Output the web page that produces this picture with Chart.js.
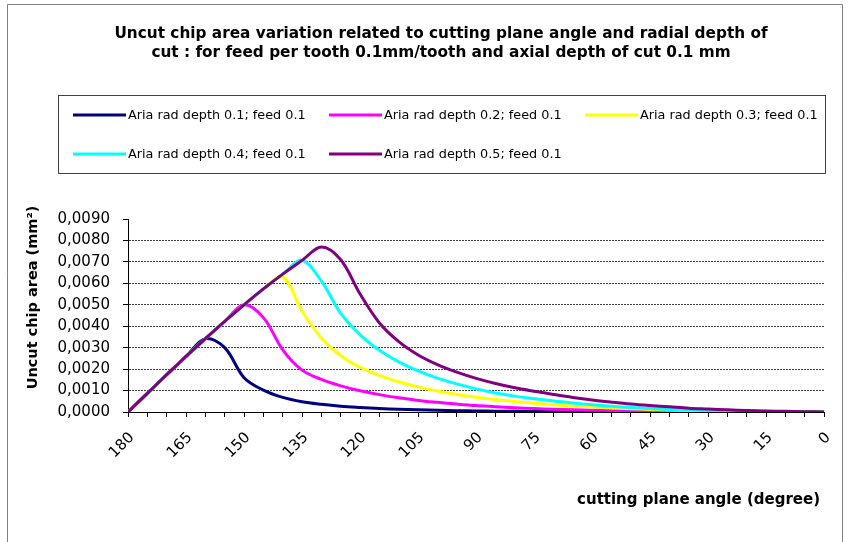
<!DOCTYPE html>
<html>
<head>
<meta charset="utf-8">
<script src="https://cdn.jsdelivr.net/npm/chart.js@4.4.1/dist/chart.umd.min.js"></script>
<style>
html,body{margin:0;padding:0;background:#fff;}
#wrap{position:relative;width:849px;height:542px;overflow:hidden;}
</style>
</head>
<body>
<div id="wrap"><canvas id="c" width="849" height="542"></canvas></div>
<script>
// ---- texts ----
const titleLines = [
  'Uncut chip area variation related to cutting plane angle and radial depth of',
  'cut : for feed per tooth 0.1mm/tooth and axial depth of cut 0.1 mm'
];
const yAxisTitle = 'Uncut chip area (mm²)';
const xAxisTitle = 'cutting plane angle (degree)';
const seriesNames = [
  'Aria rad depth 0.1; feed 0.1',
  'Aria rad depth 0.2; feed 0.1',
  'Aria rad depth 0.3; feed 0.1',
  'Aria rad depth 0.4; feed 0.1',
  'Aria rad depth 0.5; feed 0.1'
];

// ---- data ----
const angles = [180,175,170,165,160,155,150,145,140,135,130,125,120,115,110,105,100,95,90,85,80,75,70,65,60,55,50,45,40,35,30,25,20,15,10,5,0];

const rad01 = [0,0.00087,0.00174,0.00259,0.00342,0.00300,0.00160,0.00102,0.00068,0.00048,0.00036,0.00027,0.00021,0.00016,0.000125,0.00010,0.00008,0.000063,0.00005,0.00004,0.000032,0.000025,0.00002,0.000016,0.000012,0.00001,0.000008,0.000006,0.000005,0.000004,0.000003,0.000002,0.0000015,0.000001,0.0000005,0.0000002,0];
const rad02 = [0,0.00087,0.00174,0.00259,0.00342,0.00423,0.00500,0.00440,0.00290,0.00195,0.00152,0.00122,0.00099,0.00081,0.00066,0.00054,0.00045,0.00037,0.00030,0.00025,0.00020,0.00016,0.00013,0.000105,0.000085,0.00007,0.000055,0.000045,0.000035,0.000028,0.00002,0.000015,0.00001,0.000007,0.000004,0.000002,0];
const rad03 = [0,0.00087,0.00174,0.00259,0.00342,0.00423,0.00500,0.00574,0.00630,0.00470,0.00345,0.00262,0.00208,0.00170,0.00141,0.00117,0.00098,0.00082,0.00069,0.00058,0.00049,0.00041,0.00034,0.00028,0.00023,0.00019,0.00015,0.00012,0.00009,0.00007,0.00005,0.00004,0.00003,0.00002,0.00001,0.000005,0];
const rad04 = [0,0.00087,0.00174,0.00259,0.00342,0.00423,0.00500,0.00574,0.00643,0.00707,0.00610,0.00460,0.00360,0.00288,0.00234,0.00192,0.00158,0.00131,0.00108,0.00089,0.00074,0.00062,0.00051,0.00042,0.00034,0.00027,0.00021,0.00016,0.00012,0.00009,0.00007,0.00005,0.00003,0.00002,0.00001,0.000005,0];
const rad05 = [0,0.00087,0.00174,0.00259,0.00342,0.00423,0.00500,0.00574,0.00643,0.00707,0.00770,0.00710,0.00550,0.00415,0.00328,0.00266,0.00221,0.00186,0.00157,0.00133,0.00113,0.00097,0.00082,0.00068,0.00056,0.00046,0.00037,0.00030,0.00024,0.00018,0.00014,0.00010,0.00007,0.00005,0.00003,0.000015,0];

const seriesValues = [rad01, rad02, rad03, rad04, rad05];
const seriesColors = ['#000080', '#FF00FF', '#FFFF00', '#00FFFF', '#800080'];

// ---- y tick label format ----
const fmtY = v => v.toFixed(4).replace('.', ',');

const FONT = '"DejaVu Sans", sans-serif';

const decor = {
  id: 'decor',
  beforeDraw(chart) {
    const ctx = chart.ctx;
    ctx.save();
    ctx.fillStyle = '#fff';
    ctx.fillRect(0, 0, chart.width, chart.height);
    ctx.restore();
  },
  afterDraw(chart) {
    const ctx = chart.ctx;
    ctx.save();
    // outer chart border
    ctx.strokeStyle = '#808080';
    ctx.lineWidth = 1;
    ctx.beginPath();
    ctx.moveTo(7.5, chart.height);
    ctx.lineTo(7.5, 4.5);
    ctx.lineTo(842.5, 4.5);
    ctx.lineTo(842.5, chart.height);
    ctx.stroke();

    // title
    ctx.fillStyle = '#000';
    ctx.textAlign = 'center';
    ctx.textBaseline = 'alphabetic';
    ctx.font = 'bold 15.3px ' + FONT;
    ctx.fillText(titleLines[0], 441, 38);
    ctx.fillText(titleLines[1], 441, 57);

    // legend box
    ctx.strokeStyle = '#404040';
    ctx.lineWidth = 1;
    ctx.strokeRect(58.5, 95.5, 767, 78);
    const colX = [73, 329, 585];
    const rowY = [115, 154];
    ctx.font = '12.8px ' + FONT;
    ctx.textAlign = 'left';
    ctx.textBaseline = 'middle';
    chart.data.datasets.forEach((ds, i) => {
      const x = colX[i % 3], y = rowY[Math.floor(i / 3)];
      ctx.strokeStyle = ds.borderColor;
      ctx.lineWidth = 3;
      ctx.beginPath();
      ctx.moveTo(x, y);
      ctx.lineTo(x + 53, y);
      ctx.stroke();
      ctx.fillStyle = '#000';
      ctx.fillText(ds.label, x + 55, y + 0.5);
    });

    // y axis title
    ctx.save();
    ctx.translate(33, 297.5);
    ctx.rotate(-Math.PI / 2);
    ctx.font = 'bold 14.5px ' + FONT;
    ctx.textAlign = 'center';
    ctx.textBaseline = 'middle';
    ctx.fillStyle = '#000';
    ctx.fillText(yAxisTitle, 0, 0);
    ctx.restore();

    // x axis title
    ctx.font = 'bold 15px ' + FONT;
    ctx.textAlign = 'right';
    ctx.textBaseline = 'middle';
    ctx.fillStyle = '#000';
    ctx.fillText(xAxisTitle, 820, 500);
    ctx.restore();
  }
};

new Chart(document.getElementById('c'), {
  type: 'line',
  data: {
    datasets: seriesValues.map((vals, i) => ({
      label: seriesNames[i],
      data: angles.map((a, j) => ({ x: a, y: vals[j] })),
      borderColor: seriesColors[i],
      backgroundColor: seriesColors[i],
      borderWidth: 3,
      pointRadius: 0,
      tension: 0.35,
      fill: false,
      order: seriesValues.length - i
    }))
  },
  options: {
    responsive: false,
    animation: false,
    devicePixelRatio: 1,
    layout: { padding: { left: 0, right: 23, top: 219, bottom: 0 } },
    plugins: {
      legend: { display: false },
      title: { display: false },
      tooltip: { enabled: false }
    },
    scales: {
      x: {
        type: 'linear',
        reverse: true,
        min: 0,
        max: 180,
        afterFit: s => { s.height = 130; },
        ticks: {
          stepSize: 5,
          autoSkip: false,
          minRotation: 45,
          maxRotation: 45,
          padding: 12,
          labelOffset: 4,
          color: '#000',
          font: { family: FONT, size: 15 },
          callback: v => (v % 15 === 0 ? String(v) : '')
        },
        grid: { drawOnChartArea: false, drawTicks: true, tickLength: 5, color: '#000' },
        border: { display: true, color: '#000', width: 1 }
      },
      y: {
        min: 0,
        max: 0.009,
        afterFit: s => { s.width = 128; },
        ticks: {
          stepSize: 0.001,
          padding: 13,
          color: '#000',
          font: { family: FONT, size: 15 },
          callback: v => fmtY(v)
        },
        grid: {
          color: c => {
            const k = Math.round(c.tick.value * 10000);
            return (k === 0 || k === 90) ? 'rgba(0,0,0,0)' : '#404040';
          },
          tickColor: '#000',
          tickLength: 5,
          lineWidth: 1
        },
        border: { display: true, color: '#000', width: 1, dash: [2, 1] }
      }
    }
  },
  plugins: [decor]
});
</script>
</body>
</html>
